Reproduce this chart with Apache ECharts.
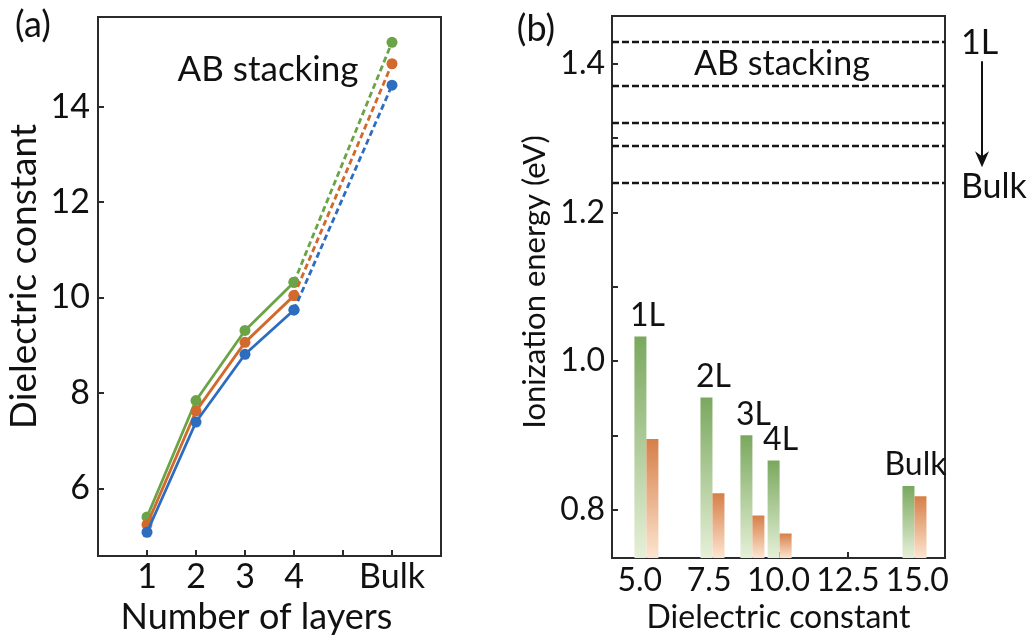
<!DOCTYPE html>
<html>
<head>
<meta charset="utf-8">
<script src="https://cdn.jsdelivr.net/npm/echarts@6/dist/echarts.min.js"></script>
<style>
  html, body { margin: 0; padding: 0; background: #fff; }
  #chart { width: 1035px; height: 640px; }
</style>
</head>
<body>
<div id="chart"></div>
<script>
// (a) dielectric constant versus number of layers
const layerPositions = [1, 2, 3, 4, 6];
const layerTickPositions = [1, 2, 3, 4, 5, 6];
const layerTickLabels = ['1', '2', '3', '4', 'Bulk'];
const epsBlue = [5.08, 7.39, 8.81, 9.74, 14.45];
const epsOrange = [5.24, 7.62, 9.06, 10.04, 14.90];
const epsGreen = [5.40, 7.84, 9.31, 10.32, 15.35];
const epsTicks = [6, 8, 10, 12, 14];

// (b) ionization energy versus dielectric constant
const layerNames = ['1L', '2L', '3L', '4L', 'Bulk'];
const ionGreen = [1.033, 0.951, 0.900, 0.866, 0.832];
const ionOrange = [0.895, 0.822, 0.792, 0.768, 0.818];
const ionLevels = [1.430, 1.369, 1.319, 1.293, 1.235];
const ionTicks = [0.8, 0.9, 1.0, 1.1, 1.2, 1.3, 1.4];
const ionTickLabels = [0.8, 1.0, 1.2, 1.4];
const epsAxisTicks = [5, 7.5, 10, 12.5, 15];

const FONT = 'Lato';
const INK = '#111';
const AXIS = '#2b2b2b';
const C_BLUE = '#2d6dc0';
const C_ORANGE = '#d2692d';
const C_GREEN = '#6aa446';

const chart = echarts.init(document.getElementById('chart'), null, { renderer: 'canvas' });

function txt(size, extra) {
  return Object.assign({ fontFamily: FONT, fontSize: size, color: INK }, extra || {});
}

function axisBase(tickValues) {
  return {
    axisLine: { show: true, onZero: false, lineStyle: { color: AXIS, width: 2 } },
    axisTick: { show: true, inside: true, length: 6, customValues: tickValues, lineStyle: { color: AXIS, width: 2 } },
    splitLine: { show: false },
    nameLocation: 'middle'
  };
}

function lineSeries(name, values, color, z) {
  const solid = layerPositions.slice(0, 4).map((x, i) => [x, values[i]]);
  const dashed = [[layerPositions[3], values[3]], [layerPositions[4], values[4]]];
  const base = {
    type: 'line', xAxisIndex: 0, yAxisIndex: 0, z: z,
    symbol: 'circle', symbolSize: 11,
    itemStyle: { color: color },
    animation: false, silent: true
  };
  return [
    Object.assign({}, base, { name: name, data: solid, lineStyle: { color: color, width: 2.8 } }),
    Object.assign({}, base, { name: name + ' bulk', data: dashed, lineStyle: { color: color, width: 2.8, type: [6, 3.5] } })
  ];
}

function grad(top, bottom) {
  return new echarts.graphic.LinearGradient(0, 0, 0, 1, [
    { offset: 0, color: top },
    { offset: 1, color: bottom }
  ]);
}

const option = {
  backgroundColor: '#fff',
  animation: false,
  textStyle: { fontFamily: FONT },
  grid: [
    { left: 98, top: 17, width: 343, height: 543, show: true, borderColor: AXIS, borderWidth: 2, backgroundColor: 'transparent' },
    { left: 612, top: 16, width: 333, height: 542, show: true, borderColor: AXIS, borderWidth: 2, backgroundColor: 'transparent' }
  ],
  xAxis: [
    Object.assign(axisBase(layerTickPositions), {
      gridIndex: 0, type: 'value', min: 0, max: 7,
      name: 'Number of layers', nameGap: 38,
      nameTextStyle: txt(36, { padding: [0, 26, 0, 0] }),
      axisLabel: txt(34, {
        customValues: layerPositions, margin: 4,
        formatter: v => layerTickLabels[layerPositions.indexOf(v)]
      })
    }),
    Object.assign(axisBase(epsAxisTicks), {
      gridIndex: 1, type: 'value', min: 4, max: 16,
      name: 'Dielectric constant', nameGap: 41,
      nameTextStyle: txt(32),
      axisLabel: txt(32, { customValues: epsAxisTicks, margin: 7, formatter: v => v.toFixed(1) })
    })
  ],
  yAxis: [
    Object.assign(axisBase(epsTicks), {
      gridIndex: 0, type: 'value', min: 4.58, max: 15.88,
      name: 'Dielectric constant', nameGap: 55,
      nameTextStyle: txt(37, { padding: [0, 0, 0, 20] }),
      axisLabel: txt(34, { customValues: epsTicks, margin: 8 })
    }),
    Object.assign(axisBase(ionTicks), {
      gridIndex: 1, type: 'value', min: 0.735, max: 1.464,
      name: 'Ionization energy (eV)', nameGap: 62,
      nameTextStyle: txt(31, { padding: [0, 0, 0, 10] }),
      axisLabel: txt(32, { customValues: ionTickLabels, margin: 7, formatter: v => v.toFixed(1) })
    })
  ],
  series: [
    ...lineSeries('green', epsGreen, C_GREEN, 2),
    ...lineSeries('orange', epsOrange, C_ORANGE, 3),
    ...lineSeries('blue', epsBlue, C_BLUE, 4),
    {
      name: 'ionization green', type: 'bar', xAxisIndex: 1, yAxisIndex: 1,
      data: epsOrange.map((x, i) => [x, ionGreen[i]]),
      barWidth: 12, barGap: '0%',
      itemStyle: { color: grad('#7aa85e', '#e6f0d8') },
      label: txt(32, {
        show: true, position: 'top', offset: [7, 0], distance: 5,
        formatter: p => layerNames[p.dataIndex]
      }),
      markLine: {
        silent: true, symbol: ['none', 'none'], animation: false,
        label: { show: false },
        emphasis: { disabled: true },
        lineStyle: { color: '#161616', width: 2.4, type: [7, 3] },
        data: ionLevels.map(v => ({ yAxis: v }))
      },
      silent: true
    },
    {
      name: 'ionization orange', type: 'bar', xAxisIndex: 1, yAxisIndex: 1,
      data: epsOrange.map((x, i) => [x, ionOrange[i]]),
      barWidth: 12, barGap: '0%',
      itemStyle: { color: grad('#d67f48', '#fde5d0') },
      silent: true
    }
  ]
};

chart.setOption(option);

// annotations placed from the axes' own pixel mapping
const yFirst = chart.convertToPixel({ yAxisIndex: 1 }, ionLevels[0]);
const yLast = chart.convertToPixel({ yAxisIndex: 1 }, ionLevels[ionLevels.length - 1]);
const arrowX = 982;
const arrowTop = yFirst + 20;
const arrowTip = yLast - 19;

function note(x, y, text, size, align) {
  return {
    type: 'text', x: x, y: y,
    style: { text: text, fontFamily: FONT, fontSize: size, fill: INK, align: align || 'center', verticalAlign: 'middle' }
  };
}

chart.setOption({
  graphic: [
    note(33, 25, '(a)', 36),
    note(536, 29, '(b)', 36),
    note(268, 70, 'AB stacking', 35),
    note(782, 64, 'AB stacking', 34),
    note(961, yFirst + 2, '1L', 34, 'left'),
    note(961, yLast + 1, 'Bulk', 34, 'left'),
    { type: 'line', shape: { x1: arrowX, y1: arrowTop, x2: arrowX, y2: arrowTip - 8 }, style: { stroke: INK, lineWidth: 2 } },
    { type: 'polygon', shape: { points: [[arrowX - 7, arrowTip - 16], [arrowX, arrowTip], [arrowX + 7, arrowTip - 16], [arrowX, arrowTip - 11]] }, style: { fill: INK } }
  ]
});
</script>
</body>
</html>
